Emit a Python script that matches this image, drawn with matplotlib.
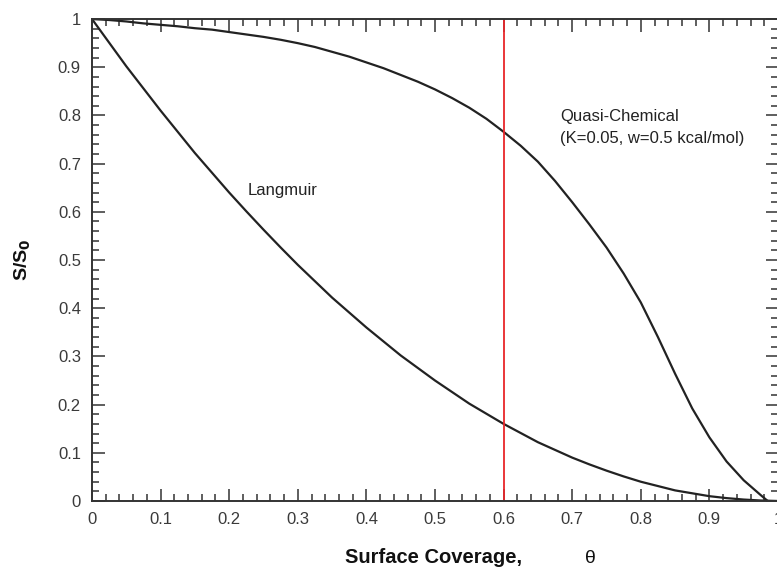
import numpy as np
import matplotlib.pyplot as plt
from matplotlib.ticker import MultipleLocator

plt.rcParams["font.family"] = ["Liberation Sans", "DejaVu Sans"]

# values
theta_langmuir = [0.0, 0.025, 0.05, 0.075, 0.1, 0.125, 0.15, 0.175, 0.2, 0.225,
                  0.25, 0.275, 0.3, 0.325, 0.35, 0.375, 0.4, 0.425, 0.45, 0.475,
                  0.5, 0.525, 0.55, 0.575, 0.6, 0.625, 0.65, 0.675, 0.7, 0.725,
                  0.75, 0.775, 0.8, 0.825, 0.85, 0.875, 0.9, 0.925, 0.95, 0.975, 1.0]
s_langmuir = [1.0, 0.951, 0.902, 0.856, 0.81, 0.766, 0.722, 0.681, 0.64, 0.601,
              0.563, 0.526, 0.49, 0.456, 0.422, 0.391, 0.36, 0.331, 0.302, 0.276,
              0.25, 0.226, 0.202, 0.181, 0.16, 0.141, 0.122, 0.106, 0.09, 0.076,
              0.063, 0.051, 0.04, 0.031, 0.022, 0.016, 0.01, 0.006, 0.003, 0.001, 0.0]

theta_quasi = [0.0, 0.025, 0.05, 0.075, 0.1, 0.125, 0.15, 0.175, 0.2, 0.225,
               0.25, 0.275, 0.3, 0.325, 0.35, 0.375, 0.4, 0.425, 0.45, 0.475,
               0.5, 0.525, 0.55, 0.575, 0.6, 0.625, 0.65, 0.675, 0.7, 0.725,
               0.75, 0.775, 0.8, 0.825, 0.85, 0.875, 0.9, 0.925, 0.95, 0.975, 0.985]
s_quasi = [1.0, 0.998, 0.995, 0.991, 0.988, 0.985, 0.981, 0.978, 0.973, 0.968,
           0.963, 0.957, 0.95, 0.942, 0.932, 0.922, 0.91, 0.898, 0.884, 0.87,
           0.854, 0.836, 0.816, 0.793, 0.766, 0.737, 0.704, 0.664, 0.62, 0.574,
           0.526, 0.472, 0.412, 0.34, 0.264, 0.192, 0.132, 0.082, 0.043, 0.012, 0.0]

marker_theta = 0.6

fig = plt.figure(figsize=(7.77, 5.67), dpi=100)
ax = fig.add_axes([0.1184, 0.1164, 0.8829, 0.850])

ax.plot(theta_langmuir, s_langmuir, color="#222222", lw=1.6)
ax.plot(theta_quasi, s_quasi, color="#222222", lw=1.6)
ax.axvline(marker_theta, color="#e8262a", lw=1.3)

ax.text(0.227, 0.645, "Langmuir", fontsize=12, color="#222222", va="center")
ax.text(0.682, 0.797, "Quasi-Chemical", fontsize=12, color="#222222", va="center")
ax.text(0.682, 0.753, "(K=0.05, w=0.5 kcal/mol)", fontsize=12, color="#222222",
        va="center")

ax.set_xlim(0, 1)
ax.set_ylim(0, 1)
ax.xaxis.set_major_locator(MultipleLocator(0.1))
ax.xaxis.set_minor_locator(MultipleLocator(0.02))
ax.yaxis.set_major_locator(MultipleLocator(0.1))
ax.yaxis.set_minor_locator(MultipleLocator(0.02))
ax.xaxis.set_major_formatter(lambda v, p: f"{v:.1f}".rstrip("0").rstrip(".") if v else "0")
ax.yaxis.set_major_formatter(lambda v, p: f"{v:.1f}".rstrip("0").rstrip(".") if v else "0")

ax.tick_params(which="both", direction="in", top=True, right=True, color="#333333")
ax.tick_params(which="major", length=9, width=1.1, labelsize=12,
               labelcolor="#3a3a3a", pad=8)
ax.tick_params(which="minor", length=5, width=1.1)
for sp in ax.spines.values():
    sp.set_linewidth(1.4)
    sp.set_color("#333333")

# x label: bold words plus a plain theta, sharing one baseline
ax.text(0.4985, -0.1286, "Surface Coverage,", transform=ax.transAxes,
        fontsize=14.5, fontweight="bold", color="#111111",
        ha="center", va="baseline")
ax.text(0.726, -0.1286, "\u03b8", transform=ax.transAxes, fontsize=14,
        color="#111111", ha="center", va="baseline")
ax.set_ylabel("S/S$_\\mathbf{0}$", fontsize=14, fontweight="bold",
              color="#111111", labelpad=18)

fig.savefig("out.png", dpi=100)
